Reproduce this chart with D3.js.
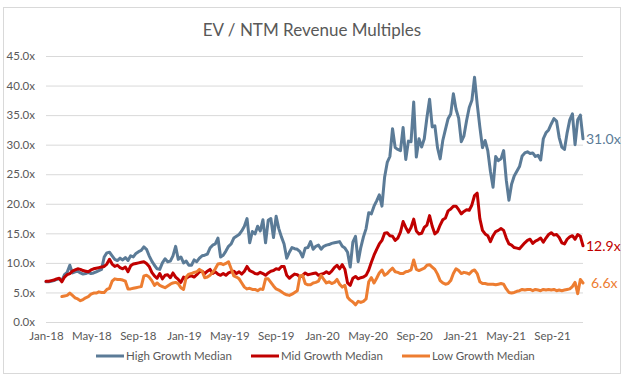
<!DOCTYPE html>
<html>
<head>
<meta charset="utf-8">
<script src="https://cdn.jsdelivr.net/npm/d3@7"></script>
<style>
    body { margin: 0; background: #fff; }
    #chart-area { width: 626px; height: 382px; }
    text { font-family: Lato, "Open Sans", sans-serif; }
</style>
</head>
<body>
<div id="chart-area"></div>
<script>

// weekly observations, first one on 1 Jan 2018
let startDate = new Date(2018, 0, 1);

let highGrowth = [
    6.8, 6.8, 6.9, 7.0, 7.2, 7.3, 7.0, 8.0, 8.4, 9.6, 8.3, 8.5, 8.6, 8.3, 8.1, 8.2, 8.4, 8.2, 8.3, 8.5,
    8.7, 8.9, 11.0, 11.7, 11.8, 11.2, 10.6, 10.4, 10.8, 10.5, 10.9, 10.4, 11.2, 11.0, 11.6, 11.9, 12.1, 12.7, 12.3, 11.2,
    10.3, 9.6, 9.0, 8.9, 10.0, 10.7, 10.2, 10.3, 11.2, 12.8, 10.6, 11.0, 10.0, 10.3, 9.6, 9.6, 10.5, 10.2, 10.8, 11.2,
    11.3, 11.5, 12.5, 13.0, 13.2, 14.2, 11.0, 11.3, 12.0, 12.8, 13.2, 14.2, 14.5, 14.8, 15.4, 16.2, 17.5, 13.4, 15.3, 14.9,
    16.2, 15.4, 17.3, 13.4, 17.2, 17.5, 14.3, 17.9, 15.8, 14.4, 13.2, 10.8, 11.8, 12.6, 12.4, 12.3, 11.9, 11.0, 12.5, 12.6,
    13.6, 12.3, 12.8, 13.0, 12.3, 12.8, 13.0, 13.1, 13.3, 13.4, 13.5, 13.6, 12.8, 12.5, 11.8, 9.3, 13.5, 14.5, 10.2, 12.6,
    14.4, 15.8, 18.5, 18.3, 19.6, 20.5, 21.5, 19.6, 24.5, 27.0, 28.0, 32.7, 29.5, 29.2, 29.0, 32.9, 27.5, 30.6, 30.5, 37.2,
    27.9, 31.0, 29.6, 31.0, 34.6, 37.7, 33.0, 33.2, 29.5, 27.6, 30.7, 32.6, 34.4, 35.2, 38.6, 36.0, 34.5, 30.5, 31.5, 34.1,
    36.3, 37.5, 41.4, 36.9, 33.0, 29.5, 30.7, 29.0, 25.5, 22.8, 28.0, 27.3, 27.6, 29.0, 24.0, 20.6, 23.3, 24.7, 25.5, 26.3,
    28.1, 28.6, 28.8, 28.5, 28.6, 28.0, 28.2, 27.4, 31.0, 32.0, 32.5, 33.5, 34.4, 34.0, 31.2, 29.6, 29.2, 32.0, 34.2, 35.2,
    30.0, 34.2, 35.0, 31.0
];

let midGrowth = [
    6.9, 6.9, 7.0, 7.1, 7.3, 7.4, 6.8, 7.6, 8.0, 8.2, 8.6, 8.8, 9.0, 8.9, 8.7, 8.6, 8.5, 8.8, 9.0, 9.1,
    9.2, 9.3, 9.4, 9.8, 10.6, 9.8, 9.4, 9.6, 9.2, 9.0, 9.3, 8.5, 9.5, 9.8, 9.9, 10.0, 10.1, 10.2, 9.9, 9.4,
    8.4, 7.8, 7.4, 8.2, 7.3, 7.9, 8.0, 7.5, 8.3, 7.6, 7.2, 6.7, 7.6, 7.4, 7.7, 7.8, 7.6, 8.0, 8.5, 8.6,
    8.2, 8.6, 8.9, 8.2, 8.5, 8.1, 7.9, 8.2, 7.9, 8.3, 8.5, 8.6, 8.2, 8.5, 8.1, 8.6, 9.4, 8.7, 8.5, 8.2,
    8.1, 8.4, 8.2, 7.9, 8.3, 8.6, 8.7, 9.0, 8.9, 9.4, 9.4, 7.9, 7.4, 7.8, 8.1, 8.0, 7.6, 7.9, 8.3, 8.0,
    8.1, 8.2, 8.3, 7.9, 8.1, 8.2, 8.5, 8.2, 8.6, 9.2, 9.6, 9.0, 9.7, 8.9, 6.6, 6.2, 7.4, 7.7, 7.3, 7.5,
    7.6, 7.9, 8.8, 10.1, 11.3, 12.3, 13.2, 13.8, 15.0, 15.1, 14.6, 14.5, 13.8, 14.2, 15.2, 17.0, 16.0, 15.2, 16.0, 17.4,
    15.4, 14.9, 15.0, 16.0, 16.4, 18.0, 16.2, 14.9, 15.3, 16.4, 17.3, 17.6, 18.8, 19.1, 19.6, 19.6, 19.0, 18.3, 18.7, 19.0,
    18.9, 19.8, 21.4, 21.8, 17.5, 15.5, 14.9, 14.6, 13.6, 14.6, 15.3, 15.5, 15.8, 15.5, 14.2, 13.2, 13.0, 12.6, 12.5, 12.4,
    12.9, 13.4, 13.8, 14.0, 13.3, 13.7, 13.9, 14.2, 13.5, 14.2, 14.8, 15.1, 14.7, 14.8, 14.3, 13.4, 13.2, 14.0, 14.4, 14.6,
    14.0, 14.8, 14.5, 12.9
];

// low growth series starts in mid Feb 2018
let lowGrowth = [
    null, null, null, null, null, null, 4.3, 4.4, 4.5, 4.9, 4.5, 4.1, 3.9, 3.6, 3.8, 4.1, 4.3, 4.7, 4.9, 4.9,
    5.1, 5.0, 5.0, 5.5, 5.7, 6.9, 7.3, 7.2, 7.2, 7.1, 6.9, 5.6, 5.6, 5.7, 5.8, 5.9, 6.0, 7.8, 7.9, 7.6,
    7.0, 6.2, 6.6, 6.2, 6.0, 5.8, 6.1, 6.4, 6.6, 6.7, 6.5, 5.8, 5.5, 7.6, 8.1, 8.2, 8.4, 8.5, 8.9, 8.6,
    7.5, 7.6, 7.9, 8.4, 9.0, 9.8, 9.9, 9.7, 9.9, 10.2, 9.0, 7.8, 7.6, 7.3, 6.6, 5.9, 5.6, 5.7, 5.5, 5.5,
    5.3, 5.6, 5.5, 7.3, 7.3, 6.7, 6.1, 5.6, 5.4, 5.1, 4.8, 4.6, 4.5, 4.7, 5.0, 5.3, 7.8, 7.9, 6.5, 6.3,
    6.3, 6.6, 6.7, 6.9, 7.9, 7.2, 6.6, 6.8, 6.5, 6.7, 7.2, 6.4, 5.9, 6.2, 4.2, 3.7, 3.4, 2.9, 3.5, 3.3,
    3.5, 3.9, 6.8, 7.5, 6.6, 7.4, 8.3, 8.8, 7.9, 8.2, 8.7, 9.1, 8.5, 8.4, 8.2, 8.2, 8.5, 8.6, 8.8, 10.5,
    8.9, 8.7, 8.9, 9.1, 9.6, 9.7, 9.3, 8.9, 8.1, 7.0, 6.6, 6.4, 6.5, 7.0, 8.2, 9.0, 8.7, 8.2, 8.4, 8.3,
    8.1, 8.6, 8.8, 8.2, 6.8, 6.5, 6.5, 6.4, 6.4, 6.4, 6.3, 6.4, 6.5, 6.4, 5.6, 5.0, 4.9, 5.0, 5.2, 5.3,
    5.5, 5.4, 5.5, 5.5, 5.3, 5.5, 5.4, 5.3, 5.5, 5.4, 5.5, 5.4, 5.5, 5.3, 5.4, 5.3, 5.4, 5.5, 5.6, 6.0,
    6.7, 4.8, 7.2, 6.6
];

let seriesNames = ["High Growth Median", "Mid Growth Median", "Low Growth Median"];
let seriesColors = ["#5b7b97", "#c00000", "#ed7d31"];

let yTicks = [0, 5, 10, 15, 20, 25, 30, 35, 40, 45];
let xTickLabels = ["Jan-18", "May-18", "Sep-18", "Jan-19", "May-19", "Sep-19",
                   "Jan-20", "May-20", "Sep-20", "Jan-21", "May-21", "Sep-21"];

let dates = highGrowth.map((d, i) => d3.timeDay.offset(startDate, 7 * i));
let parseLabel = d3.timeParse("%b-%y");
let fmt = d3.format(".1f");

let data = [highGrowth, midGrowth, lowGrowth].map((vals, i) => ({
    name: seriesNames[i],
    color: seriesColors[i],
    values: vals.map((v, j) => ({ date: dates[j], value: v }))
}));

// drawing area
let W = 626, H = 382;
let margin = { top: 56, right: 43, bottom: 60, left: 46 };
let width = W - margin.left - margin.right,
    height = H - margin.top - margin.bottom;

let svg = d3.select("#chart-area").append("svg")
    .attr("width", W)
    .attr("height", H);

// chart frame
svg.append("rect")
    .attr("x", 3.5).attr("y", 7.5)
    .attr("width", 617).attr("height", 366)
    .attr("fill", "#fff")
    .attr("stroke", "#d9d9d9");

svg.append("text")
    .attr("x", 312)
    .attr("y", 36)
    .attr("text-anchor", "middle")
    .attr("font-size", 17)
    .attr("fill", "#595959")
    .text("EV / NTM Revenue Multiples");

let g = svg.append("g")
    .attr("transform", "translate(" + margin.left + "," + margin.top + ")");

// scales
let x = d3.scaleTime()
    .domain(d3.extent(dates))
    .range([0, width]);

let y = d3.scaleLinear()
    .domain([0, 45])
    .range([height, 0]);

// gridlines + y labels
let yAxis = d3.axisLeft(y)
    .tickValues(yTicks)
    .tickSize(-width)
    .tickPadding(11)
    .tickFormat(d => fmt(d) + "x");

g.append("g")
    .attr("class", "y-axis")
    .call(yAxis)
    .call(a => a.select(".domain").remove())
    .call(a => a.selectAll("line").attr("stroke", "#d9d9d9"))
    .call(a => a.selectAll("text")
        .attr("font-family", "Lato, sans-serif")
        .attr("font-size", 11.5)
        .attr("fill", "#595959"));

// x labels
let xAxis = d3.axisBottom(x)
    .tickValues(xTickLabels.map(parseLabel))
    .tickSize(0)
    .tickPadding(10)
    .tickFormat(d3.timeFormat("%b-%y"));

g.append("g")
    .attr("class", "x-axis")
    .attr("transform", "translate(0," + height + ")")
    .call(xAxis)
    .call(a => a.select(".domain").remove())
    .call(a => a.selectAll("text")
        .attr("font-family", "Lato, sans-serif")
        .attr("font-size", 11.5)
        .attr("fill", "#595959"));

// lines
let line = d3.line()
    .defined(d => d.value != null)
    .x(d => x(d.date))
    .y(d => y(d.value));

g.selectAll(".series")
    .data(data)
    .enter().append("path")
    .attr("class", "series")
    .attr("fill", "none")
    .attr("stroke", d => d.color)
    .attr("stroke-width", 3)
    .attr("stroke-linejoin", "round")
    .attr("stroke-linecap", "round")
    .attr("d", d => line(d.values));

// end-of-line value labels
let labelShift = [3, 3, 8];
g.selectAll(".end-label")
    .data(data)
    .enter().append("text")
    .attr("class", "end-label")
    .attr("x", (d, i) => x(dates[dates.length - 1]) + labelShift[i])
    .attr("y", d => y(d.values[d.values.length - 1].value))
    .attr("dy", "0.35em")
    .attr("font-size", 14)
    .attr("fill", d => d.color)
    .text(d => fmt(d.values[d.values.length - 1].value) + "x");

// legend
let legendX = [96, 251, 402];
let legend = svg.selectAll(".legend")
    .data(data)
    .enter().append("g")
    .attr("class", "legend")
    .attr("transform", (d, i) => "translate(" + legendX[i] + ",356)");

legend.append("line")
    .attr("x1", 0).attr("x2", 28)
    .attr("stroke", d => d.color)
    .attr("stroke-width", 3);

legend.append("text")
    .attr("x", 30)
    .attr("dy", "0.35em")
    .attr("font-size", 11.5)
    .attr("fill", "#595959")
    .text(d => d.name);

</script>
</body>
</html>
